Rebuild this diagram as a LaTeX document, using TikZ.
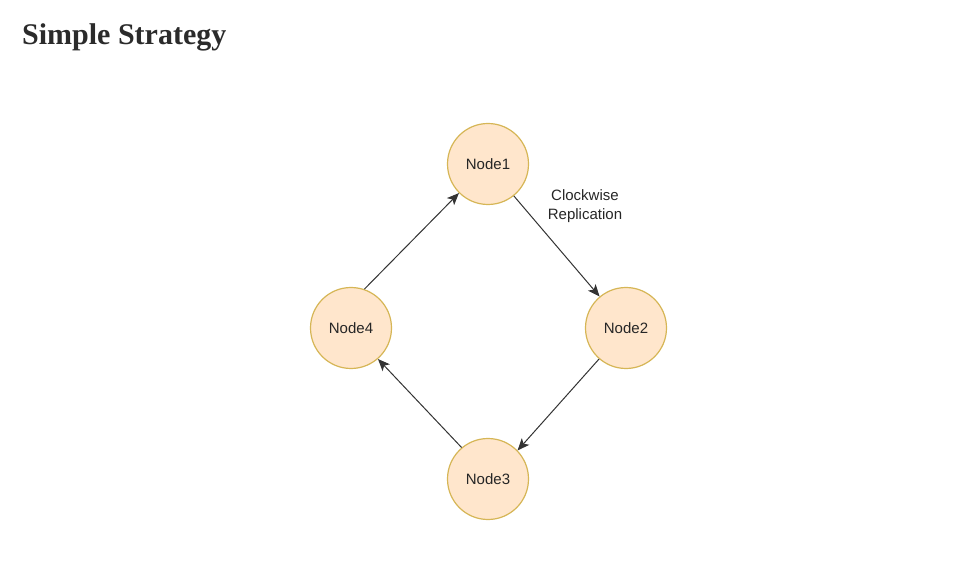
\documentclass[tikz,border=0pt]{standalone}
\usepackage{fontspec}
\setmainfont{Liberation Serif}
\newfontfamily\diagfont{Liberation Sans}
\usetikzlibrary{arrows.meta}
\definecolor{nodefill}{HTML}{FFE6CC}
\definecolor{nodeline}{HTML}{D6B656}
\definecolor{titlecol}{HTML}{2B2B2B}
\definecolor{linkcol}{HTML}{333333}
\tikzset{
    ring node/.style={
        circle,
        draw=nodeline,
        fill=nodefill,
        line width=1.2pt,
        minimum size=81pt,
        inner sep=0pt,
        font=\diagfont\fontsize{15}{18}\selectfont,
        text=black!85
    },
    replicate/.style={
        draw=linkcol,
        line width=1pt,
        -{Stealth[length=12pt,width=10pt,inset=3pt]}
    }
}
\begin{document}
\begin{tikzpicture}[x=1pt,y=-1pt]
                \useasboundingbox (0,0) rectangle (956,561);
                \node[anchor=base west, inner sep=0pt, text=titlecol,
                    font=\bfseries\fontsize{30}{36}\selectfont] (title) at (22,45) {Simple Strategy};
                \coordinate (P1) at (488,164);
                \coordinate (P2) at (626,328);
                \coordinate (P3) at (488,479);
                \coordinate (P4) at (351,328);
                \node[ring node] (node1) at (P1) {Node1};
                \node[ring node] (node2) at (P2) {Node2};
                \node[ring node] (node3) at (P3) {Node3};
                \node[ring node] (node4) at (P4) {Node4};
                \draw[replicate] (node1.-51) -- (node2.130);
                \draw[replicate] (node2.-131) -- (node3.44);
                \draw[replicate] (node3.130) -- (node4.-49);
                \draw[replicate] (node4.71) -- (node1.225);
                \node[align=center, inner sep=0pt, font=\diagfont\fontsize{15}{19}\selectfont,
                    text=black!85] (label) at (585,206) {Clockwise\\Replication};
            \end{tikzpicture}
\end{document}
